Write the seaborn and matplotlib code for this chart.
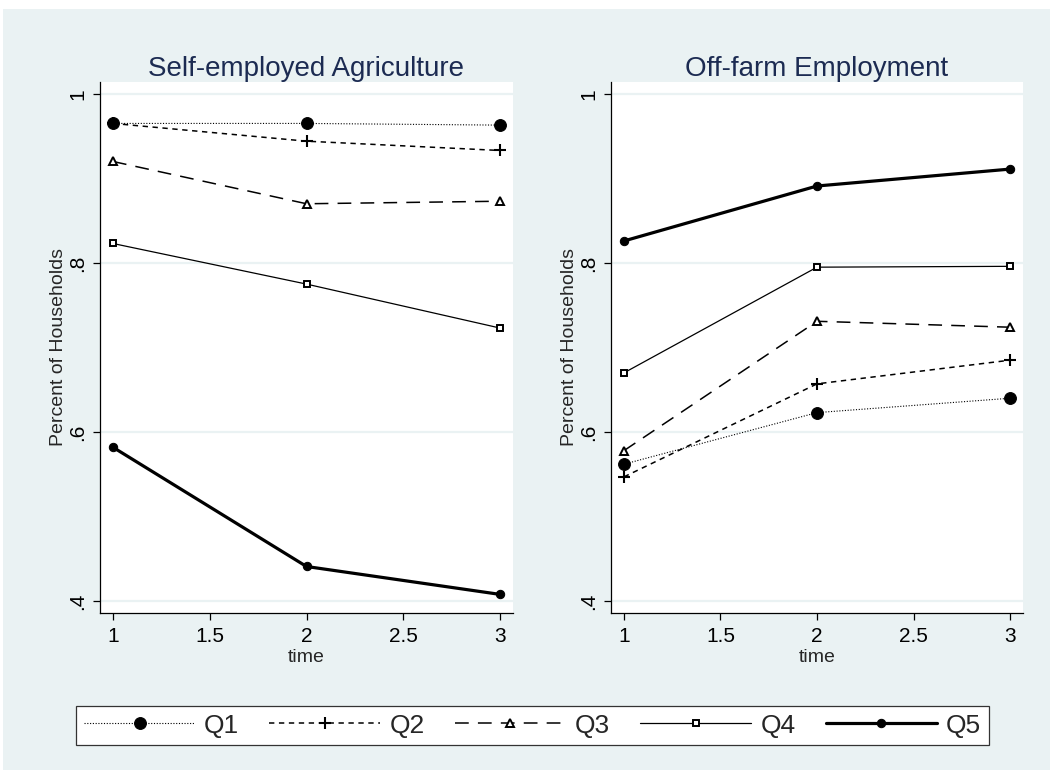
import pandas as pd
import matplotlib.pyplot as plt
import seaborn as sns
from matplotlib.patches import Rectangle

# data
time = [1, 2, 3]
groups = ["Q1", "Q2", "Q3", "Q4", "Q5"]

agri_q1 = [0.965, 0.965, 0.963]
agri_q2 = [0.965, 0.944, 0.933]
agri_q3 = [0.920, 0.870, 0.873]
agri_q4 = [0.823, 0.775, 0.723]
agri_q5 = [0.582, 0.441, 0.408]

offfarm_q1 = [0.562, 0.623, 0.640]
offfarm_q2 = [0.547, 0.657, 0.685]
offfarm_q3 = [0.578, 0.731, 0.724]
offfarm_q4 = [0.670, 0.795, 0.796]
offfarm_q5 = [0.826, 0.891, 0.911]

panel_titles = ["Self-employed Agriculture", "Off-farm Employment"]
yticks = [0.4, 0.6, 0.8, 1.0]
ytick_labels = [".4", ".6", ".8", "1"]
xticks = [1, 1.5, 2, 2.5, 3]
xtick_labels = ["1", "1.5", "2", "2.5", "3"]

rows = []
for panel, series in [(panel_titles[0], [agri_q1, agri_q2, agri_q3, agri_q4, agri_q5]),
                      (panel_titles[1], [offfarm_q1, offfarm_q2, offfarm_q3, offfarm_q4, offfarm_q5])]:
    for g, vals in zip(groups, series):
        for t, v in zip(time, vals):
            rows.append({"panel": panel, "group": g, "time": t, "share": v})
df = pd.DataFrame(rows)

# Stata s2color-like look
sns.set_style("white")
plt.rcParams["font.family"] = ["Liberation Sans", "DejaVu Sans"]

bg = "#eaf2f3"
navy = "#1c2b52"

line_kws = {
    "Q1": dict(linestyle=(0, (1, 1.5)), linewidth=0.8, marker="o", markersize=8.5,
               markerfacecolor="black", markeredgecolor="black"),
    "Q2": dict(linestyle=(0, (3.5, 3)), linewidth=1.1, marker="+", markersize=9,
               markeredgecolor="black", markeredgewidth=1.5),
    "Q3": dict(linestyle=(0, (9, 6)), linewidth=1.1, marker="^", markersize=5.5,
               markerfacecolor="white", markeredgecolor="black", markeredgewidth=1.4),
    "Q4": dict(linestyle="-", linewidth=0.9, marker="s", markersize=5,
               markerfacecolor="white", markeredgecolor="black", markeredgewidth=1.4),
    "Q5": dict(linestyle="-", linewidth=2.3, marker="o", markersize=6,
               markerfacecolor="black", markeredgecolor="black"),
}

fig = plt.figure(figsize=(10.5, 7.7), dpi=100, facecolor="white")
fig.patches.append(Rectangle((3 / 1050, 0), 1, 1 - 9 / 770, transform=fig.transFigure,
                             facecolor=bg, edgecolor="none", zorder=-5))

ax_pos = [[100 / 1050, 1 - 613 / 770, 413 / 1050, 531 / 770],
          [611 / 1050, 1 - 613 / 770, 412 / 1050, 531 / 770]]

axes = []
for pos, title in zip(ax_pos, panel_titles):
    ax = fig.add_axes(pos)
    ax.set_facecolor("white")
    sub = df[df["panel"] == title]
    for g in groups:
        sns.lineplot(data=sub[sub["group"] == g], x="time", y="share", ax=ax,
                     color="black", errorbar=None, label=g, **line_kws[g])
    if ax.get_legend() is not None:
        ax.get_legend().remove()

    ax.set_xlim(0.933, 3.067)
    ax.set_ylim(0.386, 1.014)
    ax.set_yticks(yticks)
    ax.set_yticklabels(ytick_labels, rotation=90, va="center")
    ax.set_xticks(xticks)
    ax.set_xticklabels(xtick_labels)
    ax.tick_params(axis="both", direction="out", length=5, width=0.9, color="black",
                   labelsize=15, labelcolor="black", bottom=True, left=True)
    ax.tick_params(axis="y", pad=4)
    ax.tick_params(axis="x", pad=5)
    for y in yticks:
        ax.axhline(y, color=bg, linewidth=1.6, zorder=0)
    for s in ["top", "right"]:
        ax.spines[s].set_visible(False)
    for s in ["left", "bottom"]:
        ax.spines[s].set_color("black")
        ax.spines[s].set_linewidth(0.9)
    ax.set_xlabel("time", fontsize=14, labelpad=2)
    ax.set_ylabel("Percent of Households", fontsize=14, labelpad=1)
    ax.set_title(title, fontsize=20, color=navy, pad=4)
    axes.append(ax)

handles, labels = axes[0].get_legend_handles_labels()
leg = fig.legend(handles, labels, loc="center", ncol=5, mode="expand",
                 bbox_to_anchor=(63 / 1050, 1 - 750 / 770, 939 / 1050, 49 / 770),
                 fontsize=19, handlelength=4.2, handletextpad=0.35, columnspacing=1.6,
                 frameon=True, fancybox=False, borderpad=0.3, framealpha=1)
leg.get_frame().set_edgecolor("#333333")
leg.get_frame().set_linewidth(0.9)
leg.get_frame().set_facecolor("white")

fig.savefig("out.png", dpi=100, facecolor=fig.get_facecolor())
